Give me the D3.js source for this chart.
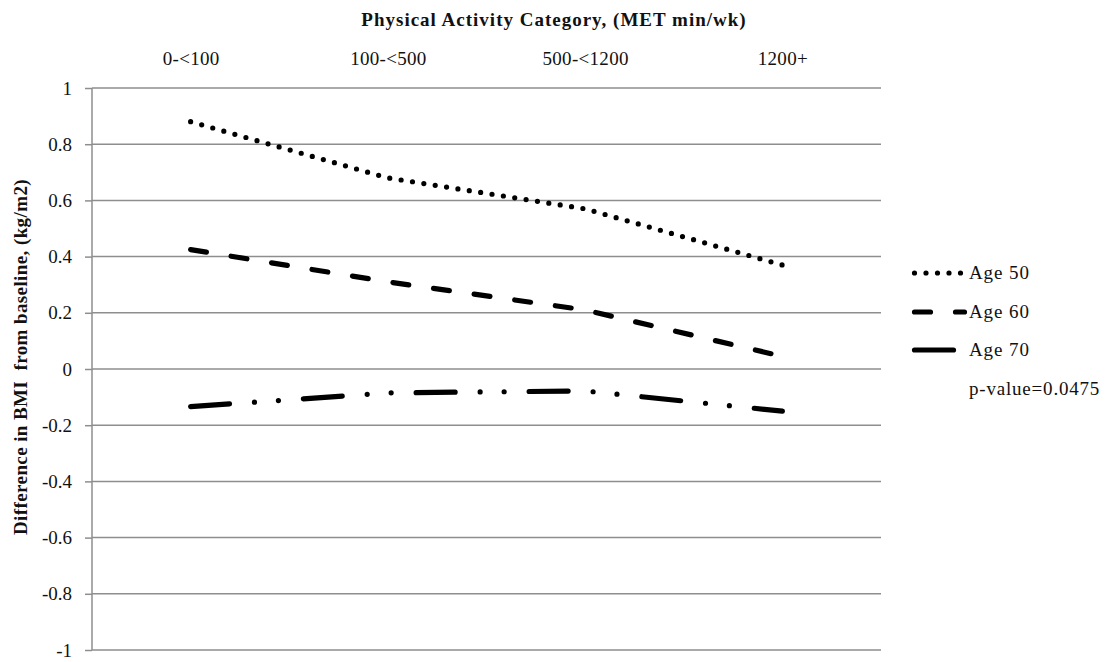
<!DOCTYPE html>
<html>
<head>
<meta charset="utf-8">
<script src="https://cdn.jsdelivr.net/npm/d3@7"></script>
<style>
  body { margin: 0; background: #fff; }
  text { font-family: "Liberation Serif", "Times New Roman", serif; fill: #111; }
</style>
</head>
<body>
<script>
// data
const categories = ["0-<100", "100-<500", "500-<1200", "1200+"];
const age50 = [0.88, 0.68, 0.57, 0.37];
const age60 = [0.425, 0.31, 0.21, 0.045];
const age70 = [-0.134, -0.085, -0.078, -0.15];
const seriesNames = ["Age 50", "Age 60", "Age 70"];
const yTicks = [-1, -0.8, -0.6, -0.4, -0.2, 0, 0.2, 0.4, 0.6, 0.8, 1];
const pValueText = "p-value=0.0475";

const width = 1113, height = 662;
const margin = { top: 88, right: 232, bottom: 12, left: 92 };

const svg = d3.select("body")
    .append("svg")
    .attr("width", width)
    .attr("height", height);

const x = d3.scalePoint()
    .domain(categories)
    .range([margin.left, width - margin.right])
    .padding(0.5);

const y = d3.scaleLinear()
    .domain([-1, 1])
    .range([height - margin.bottom, margin.top]);

const gridColor = "#8e8e8e";

// horizontal gridlines
svg.append("g")
    .selectAll("line")
    .data(yTicks)
    .enter()
    .append("line")
    .attr("x1", margin.left)
    .attr("x2", width - margin.right)
    .attr("y1", d => y(d))
    .attr("y2", d => y(d))
    .attr("stroke", gridColor)
    .attr("stroke-width", 1.5);

// left axis with outward ticks
let yAxis = svg.append("g")
    .attr("transform", `translate(${margin.left},0)`)
    .call(d3.axisLeft(y)
        .tickValues(yTicks)
        .tickSize(7)
        .tickPadding(13)
        .tickFormat(d => String(Math.round(d * 10) / 10)));
yAxis.select(".domain").attr("stroke", gridColor).attr("stroke-width", 1.5)
    .attr("d", `M0,${y(1)}V${y(-1)}`);
yAxis.selectAll(".tick line").attr("stroke", gridColor).attr("stroke-width", 1.5);
yAxis.selectAll(".tick text")
    .style("font-family", "Liberation Serif")
    .style("font-size", "19px")
    .attr("fill", "#111");

// category labels on top
let xAxis = svg.append("g")
    .attr("transform", `translate(0,${margin.top})`)
    .call(d3.axisTop(x).tickSize(0).tickPadding(23));
xAxis.select(".domain").remove();
xAxis.selectAll(".tick text")
    .style("font-family", "Liberation Serif")
    .style("font-size", "19px")
    .style("letter-spacing", "0.3px")
    .attr("fill", "#111");

// titles
svg.append("text")
    .attr("x", 554)
    .attr("y", 26)
    .attr("text-anchor", "middle")
    .style("font-size", "19px")
    .style("font-weight", "bold")
    .style("letter-spacing", "1px")
    .text("Physical Activity Category, (MET min/wk)");

svg.append("text")
    .attr("transform", "translate(27,357) rotate(-90)")
    .attr("text-anchor", "middle")
    .style("font-size", "19px")
    .style("font-weight", "bold")
    .style("letter-spacing", "0.4px")
    .style("white-space", "pre")
    .text("Difference in BMI  from baseline, (kg/m2)");

// series lines
const dashes = ["0 11.5", "16 25", "39 25 0 24 0 25"];
const seriesData = [age50, age60, age70];

const line = d3.line()
    .x((d, i) => x(categories[i]))
    .y(d => y(d));

svg.append("g")
    .selectAll("path")
    .data(seriesData)
    .enter()
    .append("path")
    .attr("d", d => line(d))
    .attr("fill", "none")
    .attr("stroke", "#000")
    .attr("stroke-width", 5.2)
    .attr("stroke-linecap", "round")
    .attr("stroke-dasharray", (d, i) => dashes[i]);

// legend
const legendY = [273, 312, 350];
let legend = svg.append("g");
legend.selectAll("path")
    .data(seriesNames)
    .enter()
    .append("path")
    .attr("d", (d, i) => `M914.5,${legendY[i]}H964.5`)
    .attr("fill", "none")
    .attr("stroke", "#000")
    .attr("stroke-width", 5.2)
    .attr("stroke-linecap", "round")
    .attr("stroke-dasharray", (d, i) => dashes[i]);
legend.selectAll("text")
    .data(seriesNames)
    .enter()
    .append("text")
    .attr("x", 969)
    .attr("y", (d, i) => legendY[i] + 6)
    .style("font-size", "19px")
    .style("letter-spacing", "0.9px")
    .text(d => d);
legend.append("text")
    .attr("x", 969)
    .attr("y", 395)
    .style("font-size", "19px")
    .style("letter-spacing", "0.8px")
    .text(pValueText);
</script>
</body>
</html>
